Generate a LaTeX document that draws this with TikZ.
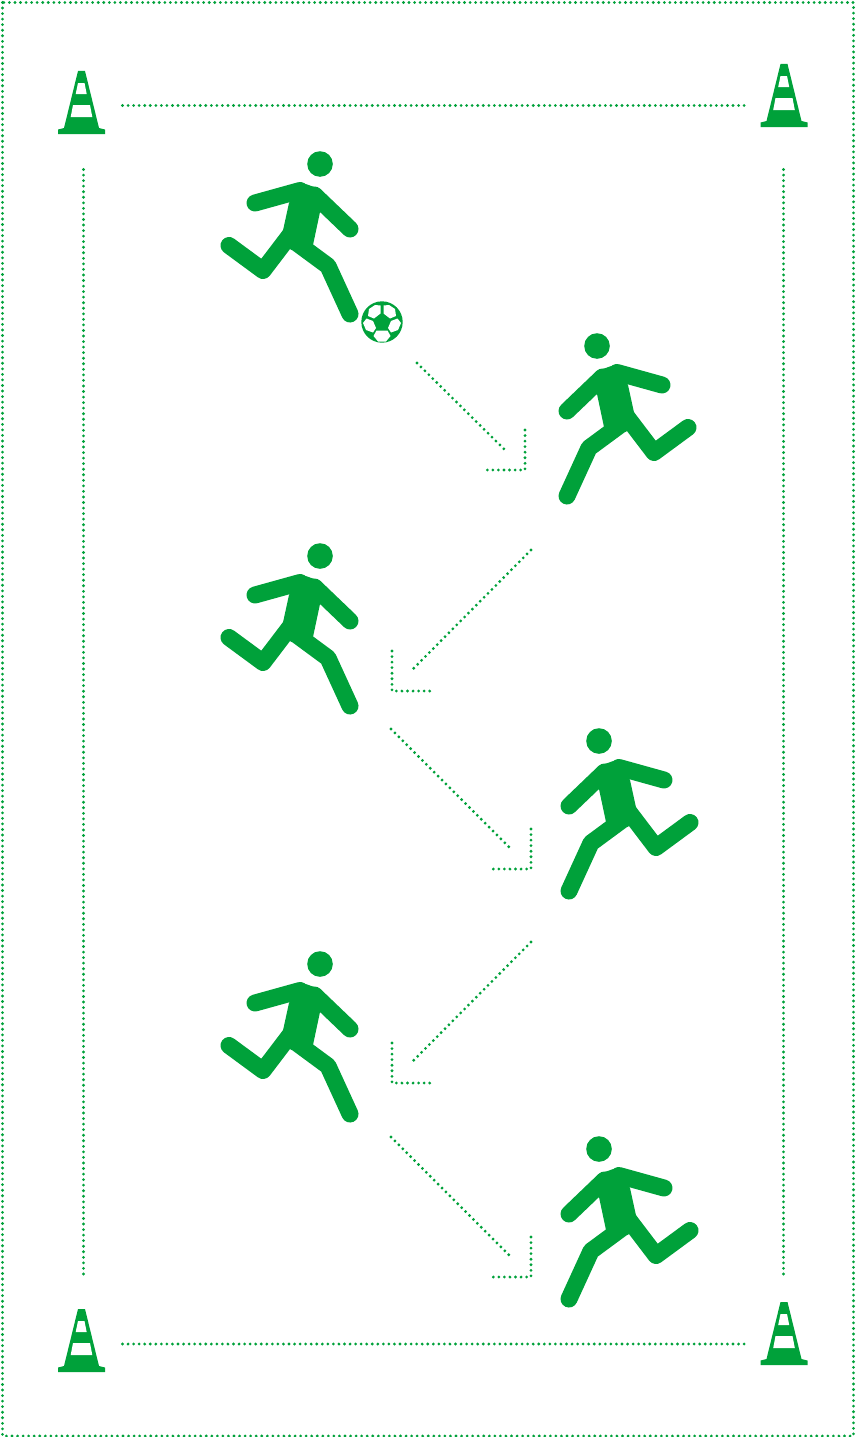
\documentclass[tikz,border=0pt]{standalone}
\usepackage{xcolor}
\definecolor{fieldgreen}{RGB}{0,161,58}

\tikzset{
  fieldline/.style={fieldgreen,line width=3.1pt,line cap=round,dash pattern=on 0pt off 5.55pt},
  limb/.style={fieldgreen,line width=17pt,line cap=round,line join=round},
  runner/.pic={
    \fill[fieldgreen] (0,0) circle (12.8);
    \fill[fieldgreen] (-20,18) -- (0,25) -- (3,28) -- (0,48) -- (-7,81)
      -- (-29,86) -- (-38,71) -- (-31,39) -- cycle;
    \draw[limb] (-65,39) -- (-20,26.5);
    \draw[limb] (-5.5,31) -- (30,65);
    \draw[limb] (-91,81.5) -- (-57,106.5) -- (-30,71);
    \draw[limb] (30,150) -- (8,102) -- (-30,74);
  },
  cone/.pic={
    \fill[fieldgreen] (-3.5,0) -- (3.5,0) -- (17.5,57) -- (23.5,58.5) -- (23.5,63)
      -- (-23.5,63) -- (-23.5,58.5) -- (-17.5,57) -- cycle;
    \fill[white] (-3.5,12) -- (3,12) -- (5.2,23) -- (-5.8,23) -- cycle;
    \fill[white] (-8.5,34) -- (8.5,34) -- (10.8,46) -- (-10.8,46) -- cycle;
  },
}

\begin{document}
\begin{tikzpicture}[x=1pt,y=-1pt]
    \useasboundingbox (0,0) rectangle (856,1437);

    % outer field
    \draw[fieldline] (2.5,2.5) rectangle (853.5,1436);

    % cones
    \pic (coneTL) at (81.5,71) {cone};
    \pic (coneTR) at (784,64) {cone};
    \pic (coneBL) at (81.5,1309) {cone};
    \pic (coneBR) at (784,1302) {cone};

    \coordinate (topA) at (122.5,105.5);
    \coordinate (topB) at (745,105.5);
    \coordinate (botA) at (122.5,1344);
    \coordinate (botB) at (745,1344);
    \coordinate (leftA) at (83.5,169.5);
    \coordinate (leftB) at (83.5,1277);
    \coordinate (rightA) at (783.5,169.5);
    \coordinate (rightB) at (783.5,1277);

    \draw[fieldline] (topA) -- (topB);
    \draw[fieldline] (botA) -- (botB);
    \draw[fieldline] (leftA) -- (leftB);
    \draw[fieldline] (rightA) -- (rightB);

    % players
    \pic (kicker) at (320,164) {runner};
    \pic (playerB) at (597,346) [xscale=-1] {runner};
    \pic (playerC) at (320,556) {runner};
    \pic (playerD) at (599,741) [xscale=-1] {runner};
    \pic (playerE) at (320,964) {runner};
    \pic (playerF) at (599,1149) [xscale=-1] {runner};

    % ball
    \fill[fieldgreen] (382,322) circle (20.7);
    \begin{scope}[shift={(382,322)}]
      \fill[white] (-1.5,-16.5) -- (-1.5,-8.5) -- (-8,-3.5) -- (-14,-6) -- (-13,-13) -- (-7,-17) -- cycle;
      \fill[white] (1.5,-16.5) -- (1.5,-8.5) -- (8,-3.5) -- (14,-6) -- (13,-13) -- (7,-17) -- cycle;
      \fill[white] (-15.5,-3.5) -- (-9,-1) -- (-6,6) -- (-9,10.5) -- (-16,8) -- (-19,1) -- cycle;
      \fill[white] (15.5,-3.5) -- (9,-1) -- (6,6) -- (9,10.5) -- (16,8) -- (19,1) -- cycle;
      \fill[white] (-5.5,8.5) -- (5.5,8.5) -- (8.5,14) -- (4,19.5) -- (-4,19.5) -- (-8.5,14) -- cycle;
    \end{scope}

    % passes
    \coordinate (passA) at (417,363);
    \coordinate (passAend) at (504,449);
    \coordinate (headAa) at (525,430);
    \coordinate (headAb) at (525,470);
    \coordinate (headAc) at (485,470);
    \coordinate (passB) at (531,550);
    \coordinate (passBend) at (412,670);
    \coordinate (headBa) at (392,651);
    \coordinate (headBb) at (392,691);
    \coordinate (headBc) at (432,691);
    \coordinate (passC) at (391,729);
    \coordinate (passCend) at (511,849);
    \coordinate (headCa) at (531,829);
    \coordinate (headCb) at (531,869);
    \coordinate (headCc) at (491,869);
    \coordinate (passD) at (531,942);
    \coordinate (passDend) at (412,1062);
    \coordinate (headDa) at (392,1043);
    \coordinate (headDb) at (392,1083);
    \coordinate (headDc) at (432,1083);
    \coordinate (passE) at (391,1137);
    \coordinate (passEend) at (511,1257);
    \coordinate (headEa) at (531,1237);
    \coordinate (headEb) at (531,1277);
    \coordinate (headEc) at (491,1277);

    \draw[fieldline] (passA) -- (passAend);
    \draw[fieldline] (headAa) -- (headAb) -- (headAc);
    \draw[fieldline] (passB) -- (passBend);
    \draw[fieldline] (headBa) -- (headBb) -- (headBc);
    \draw[fieldline] (passC) -- (passCend);
    \draw[fieldline] (headCa) -- (headCb) -- (headCc);
    \draw[fieldline] (passD) -- (passDend);
    \draw[fieldline] (headDa) -- (headDb) -- (headDc);
    \draw[fieldline] (passE) -- (passEend);
    \draw[fieldline] (headEa) -- (headEb) -- (headEc);
\end{tikzpicture}
\end{document}
